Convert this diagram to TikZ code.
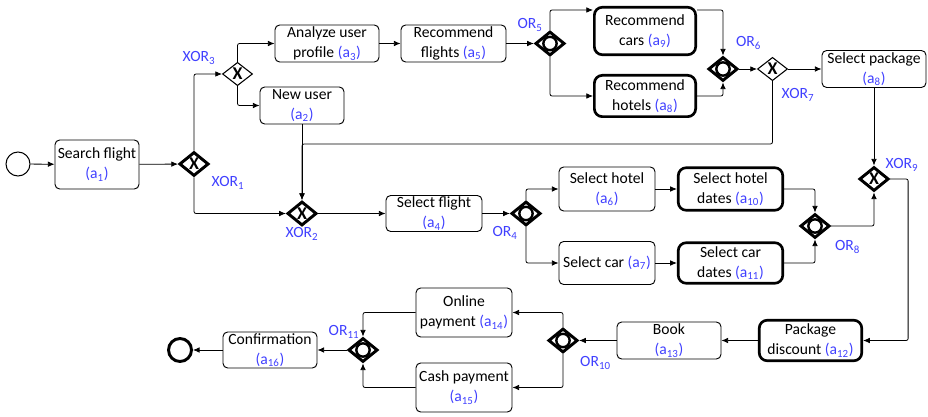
\documentclass[tikz,border=0pt]{standalone}
\usepackage{fontspec}
\setmainfont{Carlito}
\usetikzlibrary{shapes.geometric,arrows.meta}

\definecolor{idblue}{RGB}{64,64,255}
\newcommand{\aid}[1]{\textcolor{idblue}{(a\textsubscript{#1})}}

\tikzset{
  task/.style={draw, rectangle, rounded corners=3.5pt, line width=0.7pt, align=center, inner sep=0pt},
  bigtask/.style={task, rounded corners=6pt, line width=2pt},
  gw/.style={diamond, draw, inner sep=0pt, line width=2.2pt, minimum width=22pt, minimum height=18pt},
  thingw/.style={gw, line width=0.8pt, minimum width=22.5pt, minimum height=17.5pt},
  xmark/.style={path picture={\node[rectangle, draw=none, inner sep=0pt, font=\bfseries\fontsize{13.5}{13.5}\selectfont] at (path picture bounding box.center) {X};}},
  omark/.style={path picture={\draw[line width=1.8pt] (path picture bounding box.center) circle (5pt);}},
  gwlabel/.style={text=idblue, inner sep=0pt},
  flow/.style={-{Latex[length=5pt,width=4.2pt]}, line width=0.6pt, rounded corners=1.5pt},
}

\begin{document}
\begin{tikzpicture}[x=0.75pt, y=-0.75pt, font=\fontsize{11.7}{15}\selectfont]

\useasboundingbox (0,0) rectangle (928,417);

% events and tasks
\node[circle, draw, line width=0.75pt, minimum size=18pt, inner sep=0pt] (start) at (18,164) {};
\node[task, minimum width=63pt, minimum height=36.75pt] (a1) at (97,164.5) {Search flight\\\aid{1}};
\node[task, minimum width=78pt, minimum height=27.75pt] (a3) at (327,43.5) {Analyze user\\profile \aid{3}};
\node[task, minimum width=78.75pt, minimum height=27.75pt] (a5) at (453.5,43.5) {Recommend\\flights \aid{5}};
\node[task, minimum width=63pt, minimum height=27.75pt] (a2) at (302,105.5) {New user\\\aid{2}};
\node[bigtask, minimum width=76pt, minimum height=35.6pt] (a9) at (645,31) {Recommend\\cars \aid{9}};
\node[bigtask, minimum width=76pt, minimum height=31pt] (a8h) at (645,96) {Recommend\\hotels \aid{8}};
\node[task, minimum width=78pt, minimum height=27.75pt] (a8p) at (874,69) {Select package\\\aid{8}};
\node[task, minimum width=72pt, minimum height=27pt] (a4) at (434,213.5) {Select flight\\\aid{4}};
\node[task, minimum width=72pt, minimum height=33pt] (a6) at (607,189) {Select hotel\\\aid{6}};
\node[task, minimum width=72pt, minimum height=32.25pt] (a7) at (607,263) {Select car \aid{7}};
\node[bigtask, minimum width=78.4pt, minimum height=31.9pt] (a10) at (730.5,189) {Select hotel\\dates \aid{10}};
\node[bigtask, minimum width=78.4pt, minimum height=30.4pt] (a11) at (730.5,263) {Select car\\dates \aid{11}};
\node[bigtask, minimum width=76.9pt, minimum height=30.4pt] (a12) at (810.5,340.5) {Package\\discount \aid{12}};
\node[task, minimum width=78pt, minimum height=27.75pt] (a13) at (669,340.5) {Book\\\aid{13}};
\node[task, minimum width=72pt, minimum height=36.75pt] (a14) at (464,312.5) {Online\\payment \aid{14}};
\node[task, minimum width=72pt, minimum height=36.75pt] (a15) at (464,387.5) {Cash payment\\\aid{15}};
\node[task, minimum width=70.5pt, minimum height=27pt] (a16) at (270,350) {Confirmation\\\aid{16}};
\node[circle, draw, line width=2.2pt, minimum size=17.25pt, inner sep=0pt] (end) at (180,350) {};

% gateways
\node[gw, xmark] (xor1) at (194,164) {};
\node[gw, xmark] (xor2) at (302,213.5) {};
\node[thingw, xmark] (xor3) at (237.5,74) {};
\node[gw, omark] (or4) at (526,213.5) {};
\node[gw, omark] (or5) at (550,43.5) {};
\node[gw, omark] (or6) at (723,69) {};
\node[thingw, xmark] (xor7) at (772.5,69) {};
\node[gw, omark] (or8) at (815,226) {};
\node[gw, xmark] (xor9) at (874,179) {};
\node[gw, omark] (or10) at (563,340.5) {};
\node[gw, omark] (or11) at (363,350) {};

% gateway labels
\node[gwlabel] (l1) at (228,183) {XOR\textsubscript{1}};
\node[gwlabel] (l2) at (302,234) {XOR\textsubscript{2}};
\node[gwlabel] (l3) at (199,58) {XOR\textsubscript{3}};
\node[gwlabel] (l4) at (505,233) {OR\textsubscript{4}};
\node[gwlabel] (l5) at (530,25) {OR\textsubscript{5}};
\node[gwlabel] (l6) at (748.5,43) {OR\textsubscript{6}};
\node[gwlabel] (l7) at (798,95) {XOR\textsubscript{7}};
\node[gwlabel] (l8) at (847.5,247) {OR\textsubscript{8}};
\node[gwlabel] (l9) at (902,165) {XOR\textsubscript{9}};
\node[gwlabel] (l10) at (595.5,363) {OR\textsubscript{10}};
\node[gwlabel] (l11) at (344,332) {OR\textsubscript{11}};

% flows
\draw[flow] (start) -- (a1);
\draw[flow] (a1) -- (xor1);
\draw[flow] (xor1.north) |- (xor3.west);
\draw[flow] (xor1.south) |- (xor2.west);
\draw[flow] (xor3.north) |- (a3.west);
\draw[flow] (xor3.south) |- (a2.west);
\draw[flow] (a3) -- (a5);
\draw[flow] (a5) -- (or5);
\draw[flow] (or5.north) |- (a9.158);
\draw[flow] (or5.south) |- (a8h.west);
\draw[flow] (a9.22) -| (or6.north);
\draw[flow] (a8h.east) -| (or6.south);
\draw[flow] (or6) -- (xor7);
\draw[flow] (xor7) -- (a8p);
\coordinate (back) at (302,144);
\draw[flow] (xor7.south) |- (back) -- (xor2.north);
\draw[flow] (a2) -- (xor2);
\draw[flow] (xor2) -- (a4);
\draw[flow] (a4) -- (or4);
\draw[flow] (or4.north) |- (a6.west);
\draw[flow] (or4.south) |- (a7.west);
\draw[flow] (a6) -- (a10);
\draw[flow] (a7) -- (a11);
\draw[flow] (a10.east) -| (or8.north);
\draw[flow] (a11.east) -| (or8.south);
\draw[flow] (or8.east) -| (xor9.south);
\draw[flow] (a8p) -- (xor9);
\draw[flow] (xor9.east) -- ++(18,0) |- (a12.east);
\draw[flow] (a12) -- (a13);
\draw[flow] (a13) -- (or10);
\draw[flow] (or10.north) |- (a14.east);
\draw[flow] (or10.south) |- (a15.east);
\draw[flow] (a14.west) -| (or11.north);
\draw[flow] (a15.west) -| (or11.south);
\draw[flow] (or11) -- (a16);
\draw[flow] (a16) -- (end);

\end{tikzpicture}
\end{document}
